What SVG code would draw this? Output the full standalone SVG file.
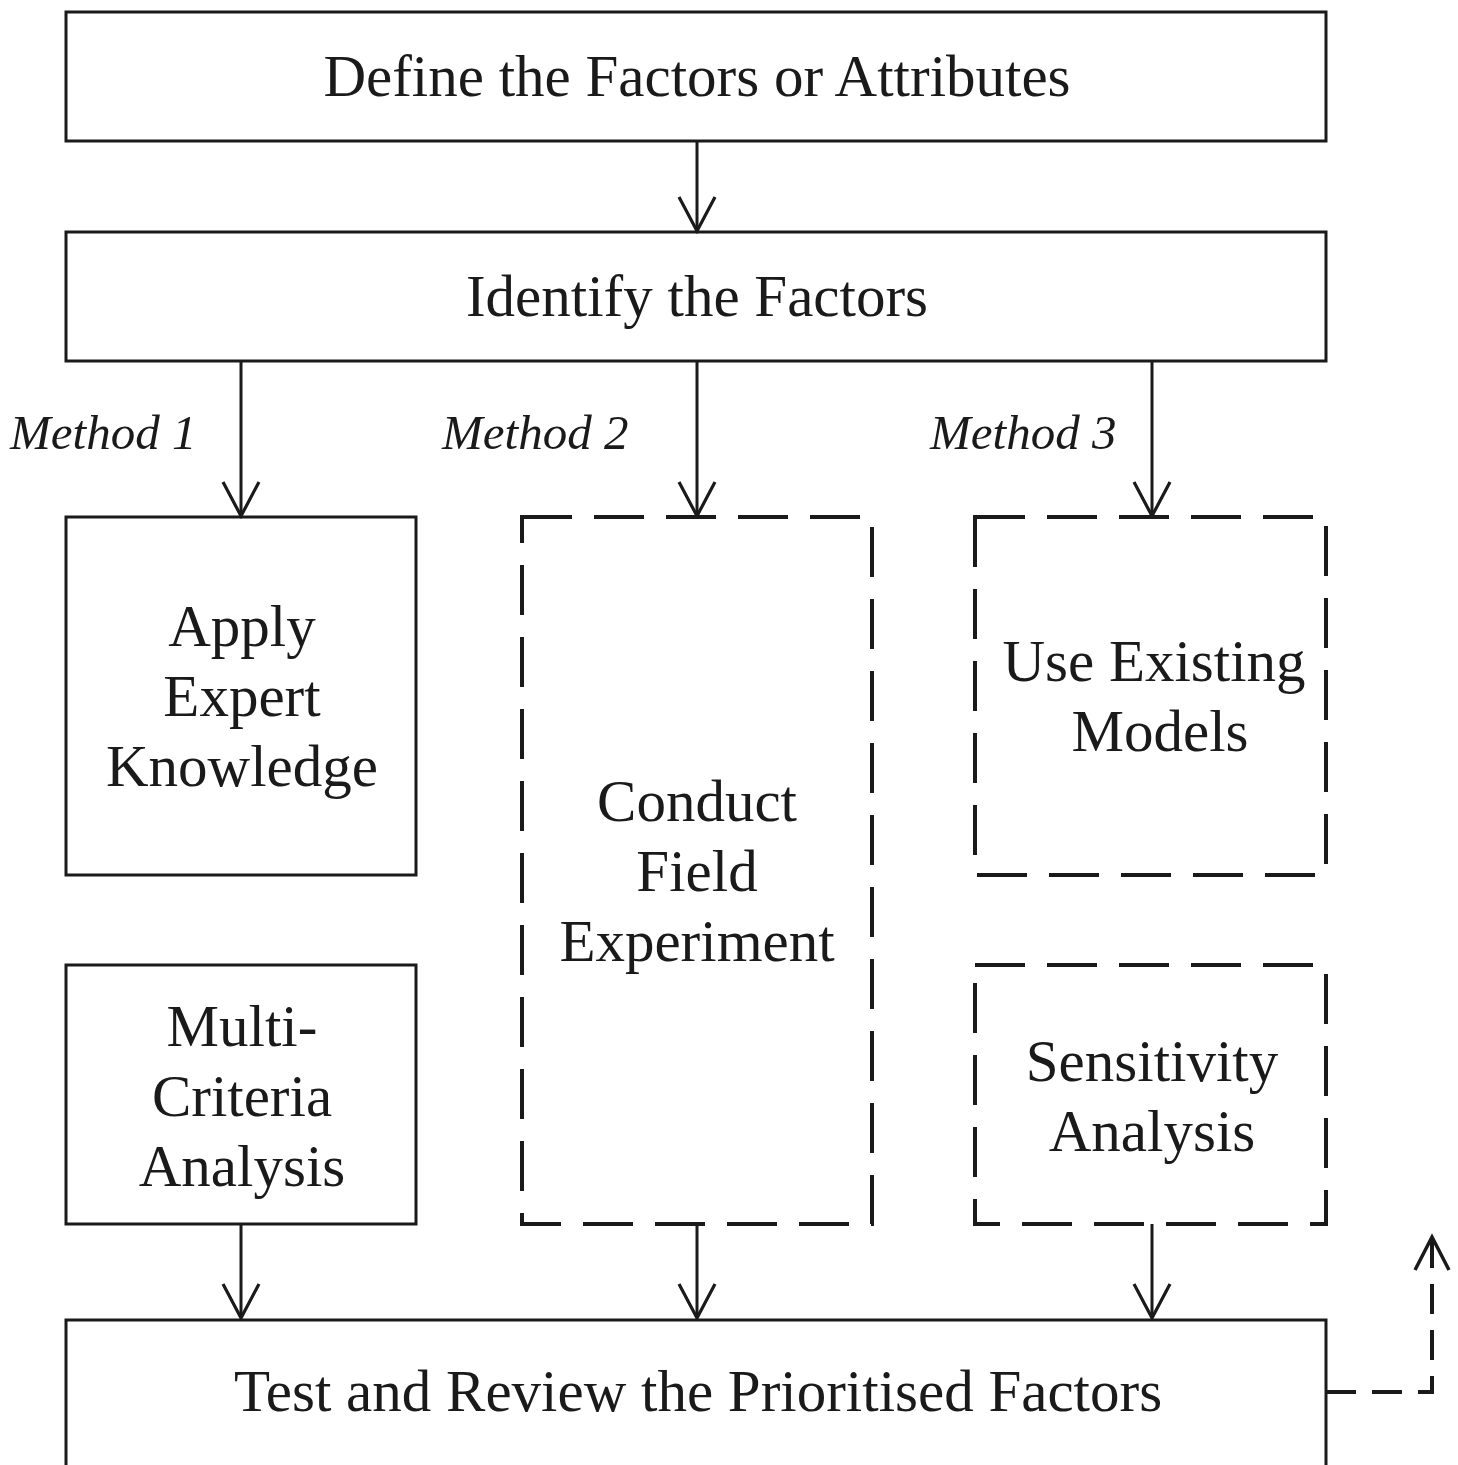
<svg xmlns="http://www.w3.org/2000/svg" width="1458" height="1465" viewBox="0 0 1458 1465">
<defs>
<style>
.box{fill:#fff;stroke:#1a1a1a;stroke-width:3}
.dbox{fill:#fff;stroke:#1a1a1a;stroke-width:4;stroke-dasharray:50 22}
.t{font-family:"Liberation Serif","Times New Roman",serif;font-size:59px;fill:#1a1a1a;text-anchor:middle}
.m{font-family:"Liberation Serif","Times New Roman",serif;font-size:49px;font-style:italic;fill:#1a1a1a}
.c{fill:none;stroke:#1a1a1a;stroke-width:3}
.dc{fill:none;stroke:#1a1a1a;stroke-width:4;stroke-dasharray:30 16}
</style>
<marker id="ah" viewBox="0 0 40 40" markerWidth="40" markerHeight="40" refX="37" refY="20" orient="auto" markerUnits="userSpaceOnUse">
<path d="M3,2 L37,20 L3,38" fill="none" stroke="#1a1a1a" stroke-width="3.2"/>
</marker>
</defs>
<rect width="1458" height="1465" fill="#fff"/>
<g id="n1"><rect class="box" x="66" y="12" width="1260" height="129"/><text class="t" x="697" y="96">Define the Factors or Attributes</text></g>
<g id="n2"><rect class="box" x="66" y="232" width="1260" height="129"/><text class="t" x="697" y="316">Identify the Factors</text></g>
<g id="n3"><rect class="box" x="66" y="517" width="350" height="358"/><text class="t" x="242" y="646">Apply</text><text class="t" x="242" y="716">Expert</text><text class="t" x="242" y="786">Knowledge</text></g>
<g id="n4"><rect class="dbox" x="522" y="517" width="350" height="707"/><text class="t" x="697" y="821">Conduct</text><text class="t" x="697" y="891">Field</text><text class="t" x="697" y="961">Experiment</text></g>
<g id="n5"><rect class="dbox" x="975" y="517" width="351" height="358"/><text class="t" x="1154" y="681">Use Existing</text><text class="t" x="1160" y="751">Models</text></g>
<g id="n6"><rect class="box" x="66" y="965" width="350" height="259"/><text class="t" x="242" y="1046">Multi-</text><text class="t" x="242" y="1116">Criteria</text><text class="t" x="242" y="1186">Analysis</text></g>
<g id="n7"><rect class="dbox" x="975" y="965" width="351" height="259"/><text class="t" x="1152" y="1081">Sensitivity</text><text class="t" x="1152" y="1151">Analysis</text></g>
<g id="n8"><rect class="box" x="66" y="1320" width="1260" height="160"/><text class="t" x="698" y="1411">Test and Review the Prioritised Factors</text></g>
<g id="labels"><text class="m" x="10" y="449">Method 1</text><text class="m" x="442" y="449">Method 2</text><text class="m" x="930" y="449">Method 3</text></g>
<g id="connectors">
<line class="c" x1="697" y1="141" x2="697" y2="231" marker-end="url(#ah)"/>
<line class="c" x1="241" y1="361" x2="241" y2="516" marker-end="url(#ah)"/>
<line class="c" x1="697" y1="361" x2="697" y2="516" marker-end="url(#ah)"/>
<line class="c" x1="1152" y1="361" x2="1152" y2="516" marker-end="url(#ah)"/>
<line class="c" x1="241" y1="1224" x2="241" y2="1318" marker-end="url(#ah)"/>
<line class="c" x1="697" y1="1224" x2="697" y2="1318" marker-end="url(#ah)"/>
<line class="c" x1="1152" y1="1224" x2="1152" y2="1318" marker-end="url(#ah)"/>
<path class="dc" d="M1326,1392 H1432 V1240"/>
<path d="M1415,1270 L1432,1237 L1449,1270" fill="none" stroke="#1a1a1a" stroke-width="3.5"/>
</g>
</svg>
